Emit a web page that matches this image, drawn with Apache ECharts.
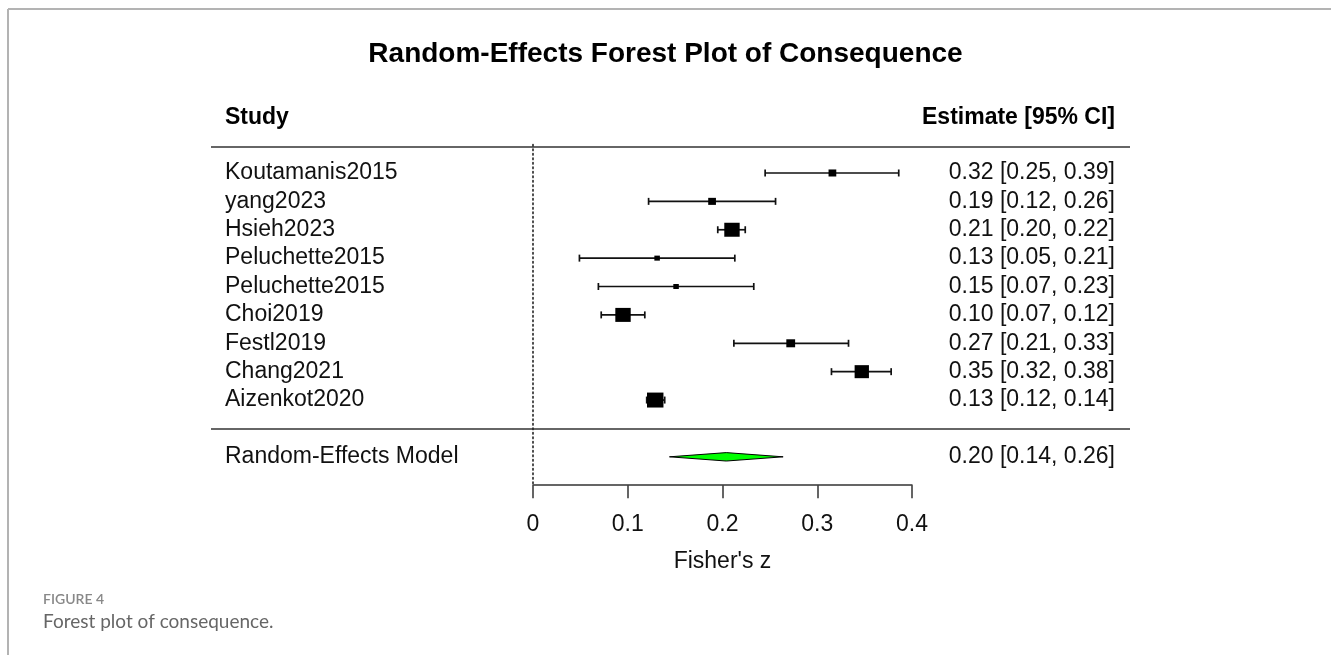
<!DOCTYPE html>
<html><head><meta charset="utf-8">
<script src="https://cdn.jsdelivr.net/npm/echarts@6/dist/echarts.min.js"></script>
<style>html,body{margin:0;padding:0;background:#fff}#c{width:1331px;height:655px}</style>
</head><body><div id="c"></div>
<script>
// ---- data ----
const studies = ['Koutamanis2015','yang2023','Hsieh2023','Peluchette2015','Peluchette2015','Choi2019','Festl2019','Chang2021','Aizenkot2020'];
const estimates = [0.316, 0.189, 0.210, 0.131, 0.151, 0.095, 0.272, 0.347, 0.129];
const ciLower   = [0.245, 0.122, 0.195, 0.049, 0.069, 0.072, 0.212, 0.315, 0.120];
const ciUpper   = [0.386, 0.256, 0.224, 0.213, 0.233, 0.118, 0.333, 0.378, 0.139];
const weights   = [8.0, 8.0, 15.9, 5.7, 5.7, 15.9, 9.1, 14.8, 17.0];
const estimateLabels = ['0.32 [0.25, 0.39]','0.19 [0.12, 0.26]','0.21 [0.20, 0.22]','0.13 [0.05, 0.21]','0.15 [0.07, 0.23]','0.10 [0.07, 0.12]','0.27 [0.21, 0.33]','0.35 [0.32, 0.38]','0.13 [0.12, 0.14]'];
const pooledName = 'Random-Effects Model';
const pooledValues = [0.144, 0.204, 0.264]; // lower, estimate, upper
const pooledLabel = '0.20 [0.14, 0.26]';
const xTickLabels = ['0','0.1','0.2','0.3','0.4'];

// ---- rows ----
const FONT = '"Liberation Sans", Arial, sans-serif';
const nRows = 12;
const leftLabels = new Array(nRows + 1).fill('');
const rightLabels = new Array(nRows + 1).fill('');
studies.forEach((s, i) => { leftLabels[i + 1] = s; rightLabels[i + 1] = estimateLabels[i]; });
const pooledRow = studies.length + 2;
leftLabels[pooledRow] = pooledName;
rightLabels[pooledRow] = pooledLabel;

const studyData = studies.map((s, i) => [ciLower[i], estimates[i], ciUpper[i], i + 1, weights[i]]);
const pooledData = [[pooledValues[0], pooledValues[1], pooledValues[2], pooledRow]];

function renderStudy(params, api) {
  const y = api.value(3);
  const p0 = api.coord([api.value(0), y]);
  const pm = api.coord([api.value(1), y]);
  const p1 = api.coord([api.value(2), y]);
  const s = api.value(4) * 0.88;
  const cap = 3.5;
  const ls = { stroke: '#111', lineWidth: 1.7 };
  return { type: 'group', children: [
    { type: 'line', shape: { x1: p0[0], y1: p0[1], x2: p1[0], y2: p1[1] }, style: ls },
    { type: 'line', shape: { x1: p0[0], y1: p0[1] - cap, x2: p0[0], y2: p0[1] + cap }, style: ls },
    { type: 'line', shape: { x1: p1[0], y1: p1[1] - cap, x2: p1[0], y2: p1[1] + cap }, style: ls },
    { type: 'rect', shape: { x: pm[0] - s * 0.55, y: pm[1] - s / 2, width: s * 1.1, height: s }, style: { fill: '#000' } }
  ]};
}
function renderPooled(params, api) {
  const y = api.value(3);
  const p0 = api.coord([api.value(0), y]);
  const pm = api.coord([api.value(1), y]);
  const p1 = api.coord([api.value(2), y]);
  const h = 4.2;
  return { type: 'polygon', shape: { points: [[p0[0], p0[1]], [pm[0], pm[1] - h], [p1[0], p1[1]], [pm[0], pm[1] + h]] },
    style: { fill: '#00ff00', stroke: '#000', lineWidth: 1 } };
}

const chart = echarts.init(document.getElementById('c'), null, { renderer: 'canvas' });
chart.setOption({
  animation: false,
  backgroundColor: '#fff',
  title: { text: 'Random-Effects Forest Plot of Consequence', left: 'center', top: 40, padding: 0,
    textStyle: { fontFamily: FONT, fontSize: 28, fontWeight: 'bold', color: '#000' } },
  grid: { left: 533, right: 419, top: 144.6, bottom: 169.8 },
  xAxis: {
    type: 'value', min: 0, max: 0.4, interval: 0.1,
    axisLine: { onZero: false, lineStyle: { color: '#333', width: 1.5 } },
    axisTick: { length: 13, lineStyle: { color: '#333', width: 1.5 } },
    splitLine: { show: false },
    axisLabel: { margin: 28, fontFamily: FONT, fontSize: 23, color: '#111',
      formatter: v => xTickLabels[Math.round(v * 10)] },
    name: "Fisher's z", nameLocation: 'middle', nameGap: 65,
    nameTextStyle: { fontFamily: FONT, fontSize: 23, color: '#111' }
  },
  yAxis: [{
    type: 'value', min: 0, max: nRows, interval: 1, inverse: true,
    axisLine: { show: true, onZero: false, lineStyle: { type: [1.5, 3], color: '#222', width: 1.6 } },
    axisTick: { show: false }, splitLine: { show: false },
    axisLabel: { margin: 308, align: 'left', fontFamily: FONT, fontSize: 23, color: '#111',
      formatter: v => leftLabels[Math.round(v)] || '' }
  }, {
    type: 'value', min: 0, max: nRows, interval: 1, inverse: true, position: 'right',
    axisLine: { show: false }, axisTick: { show: false }, splitLine: { show: false },
    axisLabel: { margin: 203, align: 'right', fontFamily: FONT, fontSize: 23, color: '#111',
      formatter: v => rightLabels[Math.round(v)] || '' }
  }],
  series: [
    { type: 'custom', renderItem: renderStudy, data: studyData, encode: { x: [0, 1, 2], y: 3 }, clip: false, silent: true },
    { type: 'custom', renderItem: renderPooled, data: pooledData, encode: { x: [0, 1, 2], y: 3 }, clip: false, silent: true }
  ],
  graphic: [
    { type: 'line', shape: { x1: 8, y1: 9, x2: 1331, y2: 9 }, style: { stroke: '#b3b3b3', lineWidth: 2 } },
    { type: 'line', shape: { x1: 8, y1: 9, x2: 8, y2: 655 }, style: { stroke: '#b3b3b3', lineWidth: 2 } },
    { type: 'line', shape: { x1: 211, y1: 147, x2: 1130, y2: 147 }, style: { stroke: '#333', lineWidth: 1.5 } },
    { type: 'line', shape: { x1: 211, y1: 429, x2: 1130, y2: 429 }, style: { stroke: '#333', lineWidth: 1.5 } },
    { type: 'text', x: 225, y: 118, style: { text: 'Study', font: 'bold 23px ' + FONT, fill: '#000', textVerticalAlign: 'middle', verticalAlign: 'middle' } },
    { type: 'text', x: 1115, y: 118, style: { text: 'Estimate [95% CI]', font: 'bold 23px ' + FONT, fill: '#000', align: 'right', textAlign: 'right', verticalAlign: 'middle', textVerticalAlign: 'middle' } },
    { type: 'text', x: 43, y: 599, style: { text: 'FIGURE 4', font: '600 14px Lato, "Open Sans", sans-serif', fill: '#888', verticalAlign: 'middle', textVerticalAlign: 'middle' } },
    { type: 'text', x: 43, y: 622, style: { text: 'Forest plot of consequence.', font: '19px Lato, "Open Sans", sans-serif', fill: '#666', verticalAlign: 'middle', textVerticalAlign: 'middle' } }
  ]
});
</script></body></html>
